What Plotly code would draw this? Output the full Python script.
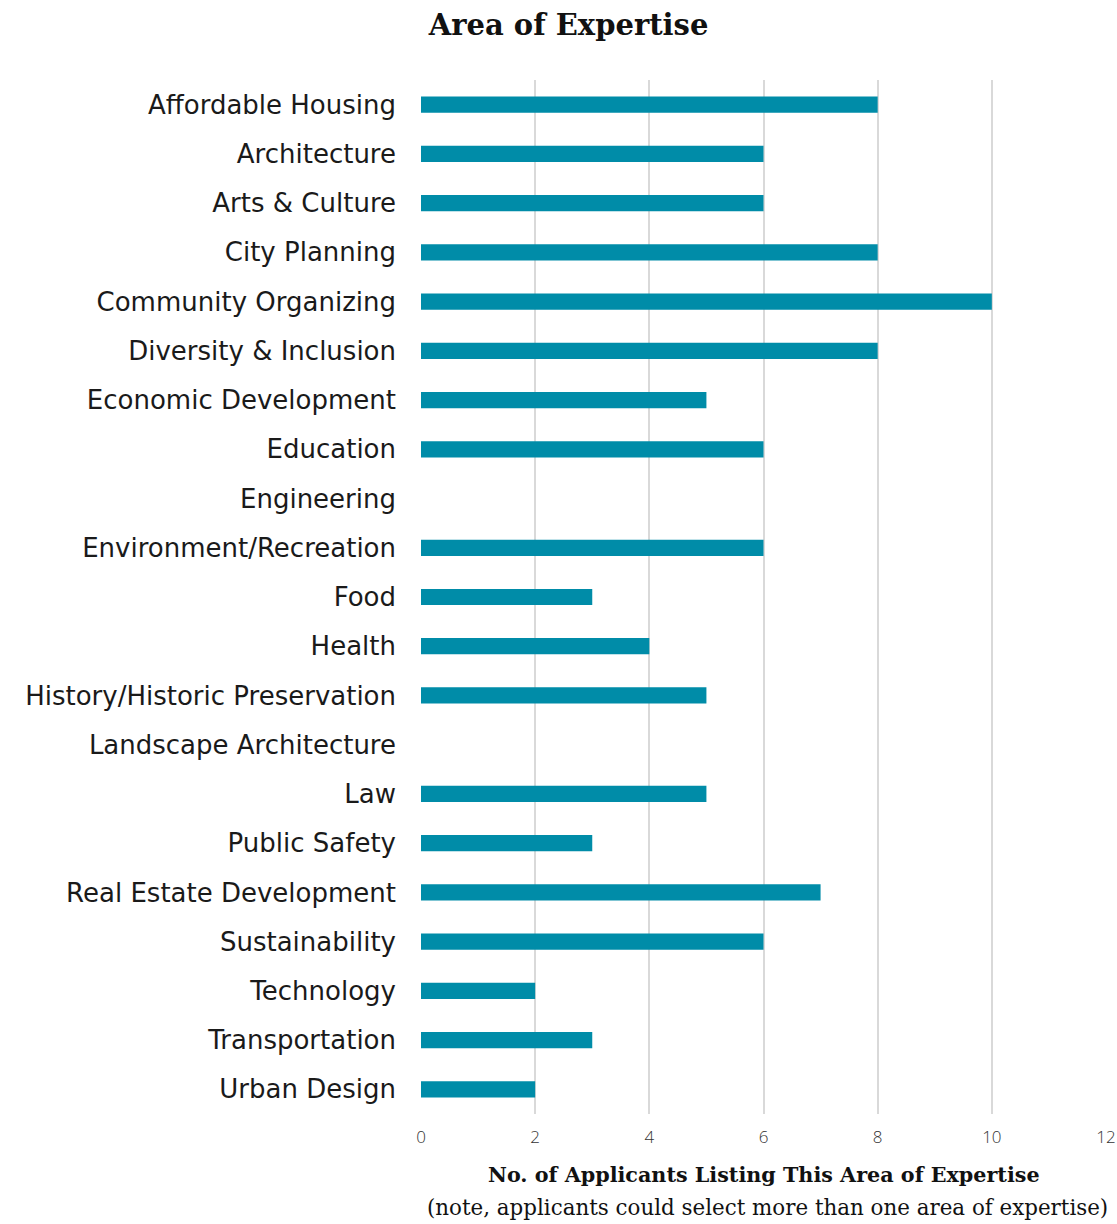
import plotly.graph_objects as go

categories = [
    "Affordable Housing", "Architecture", "Arts & Culture", "City Planning",
    "Community Organizing", "Diversity & Inclusion", "Economic Development",
    "Education", "Engineering", "Environment/Recreation", "Food", "Health",
    "History/Historic Preservation", "Landscape Architecture", "Law",
    "Public Safety", "Real Estate Development", "Sustainability",
    "Technology", "Transportation", "Urban Design",
]
counts = [8, 6, 6, 8, 10, 8, 5, 6, 0, 6, 3, 4, 5, 0, 5, 3, 7, 6, 2, 3, 2]
x_ticks = [0, 2, 4, 6, 8, 10, 12]

sans = "'DejaVu Sans', 'Open Sans', sans-serif"
serif = "'DejaVu Serif', 'Liberation Serif', serif"

fig = go.Figure(go.Bar(
    x=counts,
    y=categories,
    orientation="h",
    marker=dict(color="#008ca8", line=dict(width=0)),
    hoverinfo="x+y",
))

fig.update_layout(
    width=1117, height=1224,
    margin=dict(l=421, r=11, t=80, b=110),
    paper_bgcolor="white", plot_bgcolor="white",
    bargap=0.67,
    showlegend=False,
    title=dict(text="<b>Area of Expertise</b>", x=0.509, xanchor="center",
               y=0.9796, yanchor="middle",
               font=dict(family=serif, size=29, color="#111")),
    xaxis=dict(range=[0, 12], tickvals=x_ticks, showgrid=True, automargin=False,
               gridcolor="#d9d9d9", gridwidth=2, zeroline=False,
               showline=False, ticks="",
               tickfont=dict(family="'Open Sans', sans-serif", size=17, weight=300, color="#333"),
               ticklabelstandoff=11),
    yaxis=dict(autorange="reversed", showgrid=False, showline=False, automargin=False,
               ticks="", ticklabelstandoff=24,
               tickfont=dict(family=sans, size=26, color="#1a1a1a")),
)

fig.add_annotation(text="<b>No. of Applicants Listing This Area of Expertise</b>",
                   xref="paper", yref="paper", x=0.5, y=-0.059, yanchor="middle",
                   showarrow=False, font=dict(family=serif, size=20.7, color="#111"))
fig.add_annotation(text="(note, applicants could select more than one area of expertise)",
                   xref="paper", yref="paper", x=1.0058, xanchor="right", y=-0.0909,
                   yanchor="middle", showarrow=False,
                   font=dict(family=serif, size=21.4, color="#111"))

fig.write_html("out.html", config={"displayModeBar": False},
               post_script="document.body.style.margin='0';")
